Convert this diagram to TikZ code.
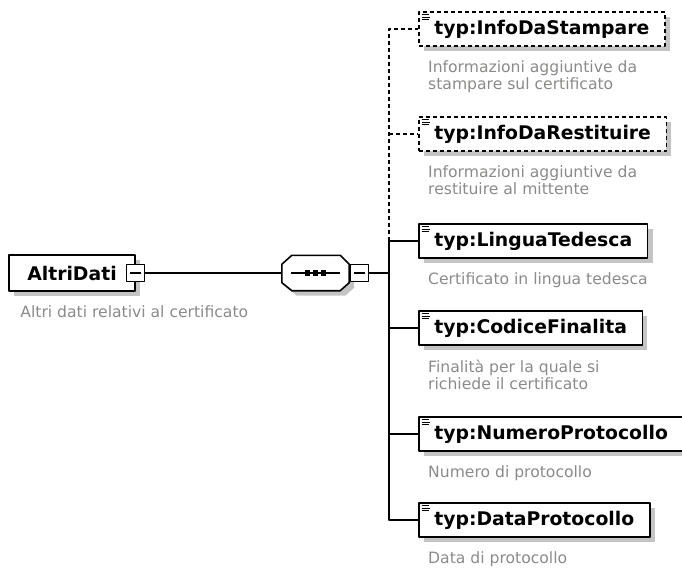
\documentclass[tikz,border=0pt]{standalone}
\usepackage{fontspec}
\setmainfont{DejaVu Sans}
\usetikzlibrary{shadows}
\definecolor{descgray}{RGB}{140,138,136}
\definecolor{shadowgray}{RGB}{196,196,196}

\tikzset{
  boxshadow/.style={drop shadow={shadow xshift=5pt,shadow yshift=-5pt,fill=shadowgray,opacity=1}},
  elembox/.style={draw,line width=1.6pt,fill=white,anchor=west,minimum height=34pt,
    inner xsep=15.5pt,inner ysep=0pt,font=\fontsize{18.8}{20}\selectfont\bfseries,boxshadow},
  optbox/.style={elembox,dash pattern=on 4pt off 3pt},
  desc/.style={anchor=north west,inner sep=0pt,align=left,text=descgray,
    font=\fontsize{15.6}{17}\selectfont},
  expbox/.style={draw,line width=1.3pt,fill=white,minimum width=18pt,minimum height=17pt,inner sep=0pt},
  conn/.style={line width=1.4pt},
  optconn/.style={conn,dash pattern=on 4pt off 3pt},
  iconline/.style={line width=0.9pt}
}

\begin{document}
\begin{tikzpicture}[x=1pt,y=-1pt,join=round] % AltriDati schema
        \useasboundingbox (0,0) rectangle (682,570);
        % root element
        \node[elembox,anchor=center,minimum width=126pt,minimum height=36pt] (altri) at (72,273) {AltriDati};
        \node[expbox] (altriExp) at (altri.east) {};
        \node[desc] (altriDesc) at ([xshift=12pt,yshift=-14pt]altri.south west) {Altri dati relativi al certificato};
        % sequence compositor
        \node[minimum width=67pt,minimum height=35pt,inner sep=0pt] (seq) at (315.5,273) {};
        \filldraw[line width=1.6pt,fill=white,boxshadow]
                ([xshift=10pt]seq.north west) -- ([xshift=-9pt]seq.north east)
                -- ([yshift=-9pt]seq.north east) -- ([yshift=8pt]seq.south east)
                -- ([xshift=-9pt]seq.south east) -- ([xshift=10pt]seq.south west)
                -- ([yshift=8pt]seq.south west) -- ([yshift=-9pt]seq.north west) -- cycle;
        \draw[conn] ([xshift=9pt]seq.west) -- ([xshift=-9pt]seq.east);
        \foreach \dx in {-8,0,8}
                \fill ([xshift=\dx pt]seq.center) ++(-2.8,-2.8) rectangle ++(5.6,5.6);
        \node[expbox] (seqExp) at ([xshift=10pt]seq.east) {};
        \coordinate (bus) at ([xshift=20pt]seqExp.east);
        % child elements
        \node[optbox] (stampa) at (418,29) {typ:InfoDaStampare};
        \node[optbox] (restituire) at (418,134) {typ:InfoDaRestituire};
        \node[elembox] (lingua) at (418,241) {typ:LinguaTedesca};
        \node[elembox] (codice) at (418,328) {typ:CodiceFinalita};
        \node[elembox] (numero) at (418,434) {typ:NumeroProtocollo};
        \node[elembox] (data) at (418,520) {typ:DataProtocollo};
        \node[desc] (stampaDesc) at ([xshift=10pt,yshift=-14pt]stampa.south west) {Informazioni aggiuntive da\\stampare sul certificato};
        \node[desc] (restituireDesc) at ([xshift=10pt,yshift=-14pt]restituire.south west) {Informazioni aggiuntive da\\restituire al mittente};
        \node[desc] (linguaDesc) at ([xshift=10pt,yshift=-14pt]lingua.south west) {Certificato in lingua tedesca};
        \node[desc] (codiceDesc) at ([xshift=10pt,yshift=-14pt]codice.south west) {Finalità per la quale si\\richiede il certificato};
        \node[desc] (numeroDesc) at ([xshift=10pt,yshift=-14pt]numero.south west) {Numero di protocollo};
        \node[desc] (dataDesc) at ([xshift=10pt,yshift=-14pt]data.south west) {Data di protocollo};
        % annotation icons
        \foreach \n in {stampa,restituire,lingua,codice,numero,data}
                \foreach \dy/\len in {3.5/7,6/8.5,8.5/7.5}
                        \draw[iconline] ([xshift=3.5pt,yshift=-\dy pt]\n.north west) -- +(\len,0);
        % minus signs
        \foreach \n in {altriExp,seqExp}
                \draw[line width=1.6pt] ([xshift=4pt]\n.west) -- ([xshift=-4pt]\n.east);
        % connectors
        \draw[conn] (altriExp.east) -- (seq.west);
        \draw[conn] (seqExp.east) -- (bus);
        \draw[conn] (bus) |- (lingua.west);
        \draw[conn] (lingua.west -| bus) |- (data.west);
        \draw[conn] (codice.west -| bus) -- (codice.west);
        \draw[conn] (numero.west -| bus) -- (numero.west);
        \draw[optconn] (lingua.west -| bus) |- (stampa.west);
        \draw[optconn] (restituire.west -| bus) -- (restituire.west);
\end{tikzpicture}
\end{document}
